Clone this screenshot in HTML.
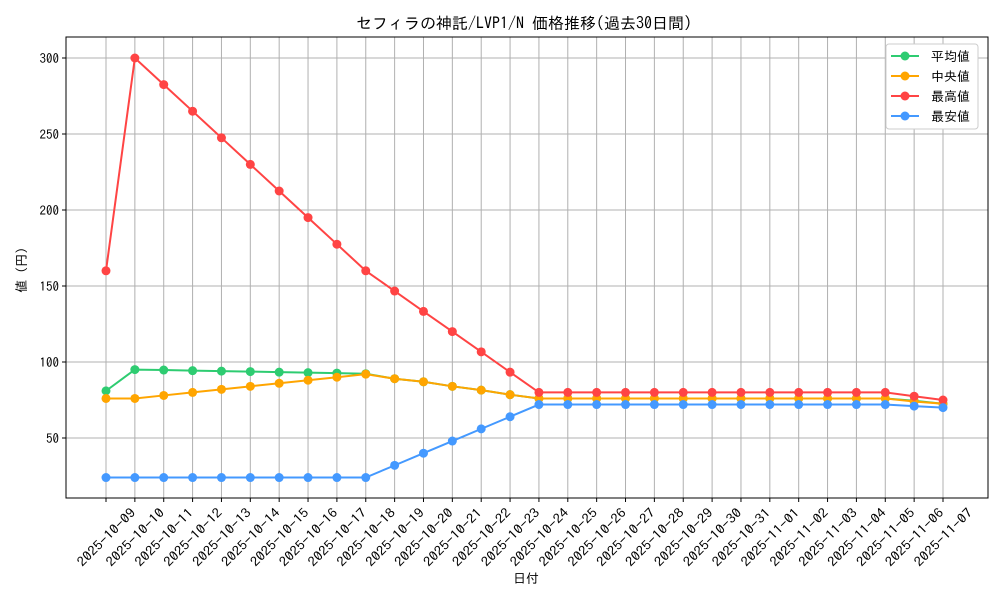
<!DOCTYPE html>
<html><head><meta charset="utf-8"><style>
body{margin:0;background:#fff;}
svg text{font-family:"IPAGothic","Noto Sans CJK JP",sans-serif;fill:#000;}
</style></head><body>
<svg id="chart" width="1000" height="600" xmlns="http://www.w3.org/2000/svg"></svg>
<script>
const dates=["2025-10-09","2025-10-10","2025-10-11","2025-10-12","2025-10-13","2025-10-14","2025-10-15","2025-10-16","2025-10-17","2025-10-18","2025-10-19","2025-10-20","2025-10-21","2025-10-22","2025-10-23","2025-10-24","2025-10-25","2025-10-26","2025-10-27","2025-10-28","2025-10-29","2025-10-30","2025-10-31","2025-11-01","2025-11-02","2025-11-03","2025-11-04","2025-11-05","2025-11-06","2025-11-07"];
const avgVals=[81,95,94.7,94.3,94,93.7,93.3,93,92.7,92.3,89,87,84,81.5,78.5,76,76,76,76,76,76,76,76,76,76,76,76,76,74.5,72.5];
const medVals=[76,76,78,80,82,84,86,88,90,92,89,87,84,81.5,78.5,76,76,76,76,76,76,76,76,76,76,76,76,76,74,72.5];
const maxVals=[160,300,282.5,265,247.5,230,212.5,195,177.5,160,146.7,133.3,120,106.7,93.3,80,80,80,80,80,80,80,80,80,80,80,80,80,77.5,75];
const minVals=[24,24,24,24,24,24,24,24,24,24,32,40,48,56,64,72,72,72,72,72,72,72,72,72,72,72,72,72,71,70];
const yTicks=[50,100,150,200,250,300];
const seriesNames=["平均値","中央値","最高値","最安値"];
const NS="http://www.w3.org/2000/svg";
const svg=document.getElementById("chart");
const L=66,R=988,T=37,B=498;
const xs=i=>106+i*(943-106)/(dates.length-1);
const ys=v=>58+(300-v)*1.52;
function mk(tag,attrs,parent){const e=document.createElementNS(NS,tag);for(const k in attrs)e.setAttribute(k,attrs[k]);(parent||svg).appendChild(e);return e;}
const title=mk("text",{x:524,y:29,"text-anchor":"middle","font-size":16});
title.textContent="セフィラの神託/LVP1/N 価格推移(過去30日間)";


dates.forEach((d,i)=>{
 const g=mk("line",{x1:xs(i),x2:xs(i),y1:T,y2:B,stroke:"#b0b0b0","stroke-width":1});
 
 
 mk("line",{x1:xs(i),x2:xs(i),y1:B,y2:B+4,stroke:"#000"});
 const t=mk("text",{x:0,y:5,"text-anchor":"middle","font-size":13,textLength:76,lengthAdjust:"spacingAndGlyphs",transform:`translate(${xs(i)},537) rotate(-45)`});
 t.textContent=d;
 
 
});
yTicks.forEach(v=>{
 const g=mk("line",{x1:L,x2:R,y1:ys(v),y2:ys(v),stroke:"#b0b0b0","stroke-width":1});
 
 
 mk("line",{x1:L-4,x2:L,y1:ys(v),y2:ys(v),stroke:"#000"});
 const t=mk("text",{x:L-7,y:ys(v)+5,"text-anchor":"end","font-size":13});
 t.textContent=v;
 
 
});
const ax=mk("rect",{x:L,y:T,width:R-L,height:B-T,fill:"none",stroke:"#000","stroke-width":1});


const xt=mk("text",{x:526,y:583,"text-anchor":"middle","font-size":13});
xt.textContent="日付";


const yt=mk("text",{x:0,y:0,"text-anchor":"middle","font-size":13,transform:"translate(26,270) rotate(-90)"});
yt.textContent="値 (円)";


const series=[[avgVals,"#2ecc71","avg"],[medVals,"#ffa500","median"],[maxVals,"#ff4444","max"],[minVals,"#4499ff","min"]];
series.forEach(([vals,c,n])=>{
 const p=mk("polyline",{points:vals.map((v,i)=>xs(i)+","+ys(v)).join(" "),fill:"none",stroke:c,"stroke-width":2});
 
 
 vals.forEach((v,i)=>{
  const m=mk("circle",{cx:xs(i),cy:ys(v),r:4.5,fill:c});
  
  
 });
});
const lg=mk("g",{});


mk("rect",{x:886,y:44,width:92,height:85,fill:"#fff",stroke:"#ccc",rx:3},lg);
series.forEach(([v,c,n],i)=>{
 const y=56+i*20;
 mk("line",{x1:891,x2:919,y1:y,y2:y,stroke:c,"stroke-width":2},lg);
 mk("circle",{cx:905,cy:y,r:4.5,fill:c},lg);
 const t=mk("text",{x:931,y:y+5,"font-size":13},lg);
 t.textContent=seriesNames[i];
 
 
});
</script>
</body></html>
